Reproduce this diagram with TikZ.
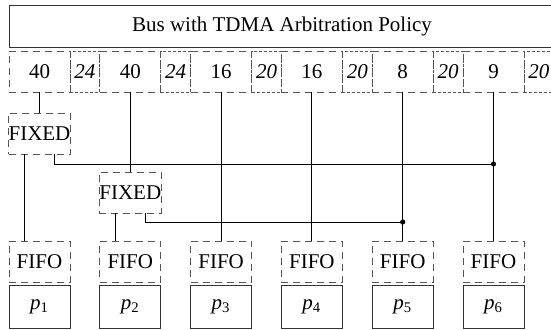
\documentclass[tikz,border=0pt]{standalone}
\usepackage{fontspec}
\setmainfont{Liberation Serif}
\usetikzlibrary{positioning, calc}
\definecolor{boxgray}{RGB}{85, 85, 85}

\begin{document}
\begin{tikzpicture}[
    every node/.style={font=\fontsize{10.5}{12}\selectfont, inner sep=0pt, outer sep=0pt},
    node distance=14.9pt,
    proc/.style={draw=black!80, line width=0.5pt, minimum width=30.5pt, minimum height=21.5pt},
    queue/.style={draw=boxgray, line width=0.5pt, dash pattern=on 3.5pt off 2.5pt,
                  minimum width=30.5pt, minimum height=20.5pt},
    slot/.style={queue},
    gap/.style={draw=boxgray, line width=0.5pt, dash pattern=on 1.5pt off 1pt,
                minimum width=14.9pt, minimum height=20.5pt,
                font=\fontsize{10.5}{12}\selectfont\itshape},
    bus/.style={draw=black!80, line width=0.5pt, minimum width=273pt, minimum height=21pt},
    wire/.style={line width=0.5pt, black}
  ]
    \useasboundingbox (0,0) rectangle (275.5pt,-164.5pt);

    \node[proc, anchor=south west] (P1) at (4.5pt,-164pt) {\textit{p}\textsubscript{1}};
    \node[proc, right=of P1] (P2) {\textit{p}\textsubscript{2}};
    \node[proc, right=of P2] (P3) {\textit{p}\textsubscript{3}};
    \node[proc, right=of P3] (P4) {\textit{p}\textsubscript{4}};
    \node[proc, right=of P4] (P5) {\textit{p}\textsubscript{5}};
    \node[proc, right=of P5] (P6) {\textit{p}\textsubscript{6}};

    \node[queue, above=1.5pt of P1] (Q1) {FIFO};
    \node[queue, above=1.5pt of P2] (Q2) {FIFO};
    \node[queue, above=1.5pt of P3] (Q3) {FIFO};
    \node[queue, above=1.5pt of P4] (Q4) {FIFO};
    \node[queue, above=1.5pt of P5] (Q5) {FIFO};
    \node[queue, above=1.5pt of P6] (Q6) {FIFO};

    % TDMA slots and gaps
    \node[slot, above=74.5pt of Q1] (S1) {40};
    \node[gap, right=0pt of S1]     (G1) {24};
    \node[slot, right=0pt of G1]    (S2) {40};
    \node[gap, right=0pt of S2]     (G2) {24};
    \node[slot, right=0pt of G2]    (S3) {16};
    \node[gap, right=0pt of S3]     (G3) {20};
    \node[slot, right=0pt of G3]    (S4) {16};
    \node[gap, right=0pt of S4]     (G4) {20};
    \node[slot, right=0pt of G4]    (S5) {8};
    \node[gap, right=0pt of S5]     (G5) {20};
    \node[slot, right=0pt of G5]    (S6) {9};
    \node[gap, right=0pt of S6]     (G6) {20};

    \node[bus, anchor=south west] (B) at ([yshift=2pt]S1.north west) {Bus with TDMA Arbitration Policy};

    \node[queue, below=10.5pt of S1] (F1) {FIXED};
    \node[queue, below=40pt of S2]   (F2) {FIXED};

    \draw[wire] (S1) -- (F1);
    \draw[wire] (S2) -- (F2);
    \draw[wire] (S3) -- (Q3);
    \draw[wire] (S4) -- (Q4);
    \draw[wire] (S5) -- (Q5);
    \draw[wire] (S6) -- (Q6);
    \draw[wire] ([xshift=-7.5pt]F1.south) -- ([xshift=-7.5pt]Q1.north);
    \draw[wire] ([xshift=-7.5pt]F2.south) -- ([xshift=-7.5pt]Q2.north);

    \coordinate (J1) at ([yshift=-5pt]F1.south -| S6.south);
    \coordinate (J2) at ([yshift=-4.5pt]F2.south -| S5.south);
    \draw[wire] ([xshift=7.5pt]F1.south) |- (J1);
    \draw[wire] ([xshift=7.5pt]F2.south) |- (J2);
    \fill (J1) circle (1.3pt);
    \fill (J2) circle (1.3pt);
\end{tikzpicture}
\end{document}
